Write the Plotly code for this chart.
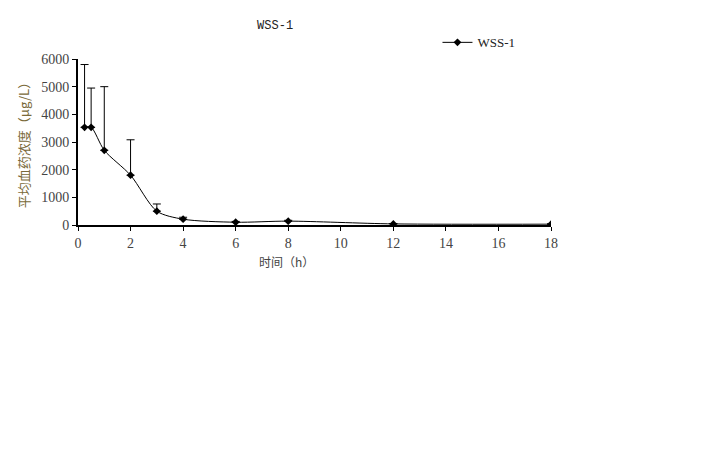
import plotly.graph_objects as go

times = [0.25, 0.5, 1, 2, 3, 4, 6, 8, 12, 18]
conc = [3530, 3530, 2700, 1800, 500, 210, 100, 140, 40, 30]
sd_up = [2270, 1420, 2300, 1280, 260, 70, 30, 30, 15, 10]

fig = go.Figure()
fig.add_trace(go.Scatter(
    x=times, y=conc, mode='lines+markers', name='WSS-1',
    line=dict(color='black', width=1, shape='spline', smoothing=0.8),
    marker=dict(symbol='diamond', size=6, color='black'),
    error_y=dict(type='data', array=sd_up, arrayminus=[0] * len(sd_up),
                 symmetric=False, color='black', thickness=1, width=4)
))

# x-axis title placed slightly left of centre, as in the original
fig.add_annotation(text='时间（h）', x=0.44, y=-0.22, xref='paper', yref='paper',
                   xanchor='center', yanchor='middle', showarrow=False,
                   font=dict(family='Noto Sans CJK SC', size=12, color='#444'))

fig.update_layout(
    width=720, height=450,
    paper_bgcolor='white', plot_bgcolor='white',
    margin=dict(l=70, r=177, t=51, b=233),
    title=dict(text='WSS-1', x=0.371, xanchor='center', y=0.962, yanchor='middle',
               font=dict(family='Liberation Mono, DejaVu Sans Mono', size=12, color='#222')),
    font=dict(family='Liberation Serif, Noto Sans CJK SC', size=14, color='#444'),
    showlegend=True,
    legend=dict(x=0.76, y=1.10, xanchor='left', yanchor='middle', itemwidth=30,
                bgcolor='rgba(0,0,0,0)', font=dict(size=13, color='#222')),
    xaxis=dict(range=[0, 18], tickvals=list(range(0, 19, 2)), showline=True,
               linecolor='black', linewidth=2, ticks='outside', ticklen=4,
               tickcolor='black', showgrid=False, zeroline=False),
    yaxis=dict(range=[0, 6000], tickvals=list(range(0, 6001, 1000)), showline=True,
               linecolor='black', linewidth=2, ticks='outside', ticklen=4,
               tickcolor='black', showgrid=False, zeroline=False,
               title=dict(text='平均血药浓度（μg/L）', standoff=9,
                          font=dict(family='Noto Sans CJK SC', size=13, color='#7a6a3a'))),
)

fig.write_html("out.html")
